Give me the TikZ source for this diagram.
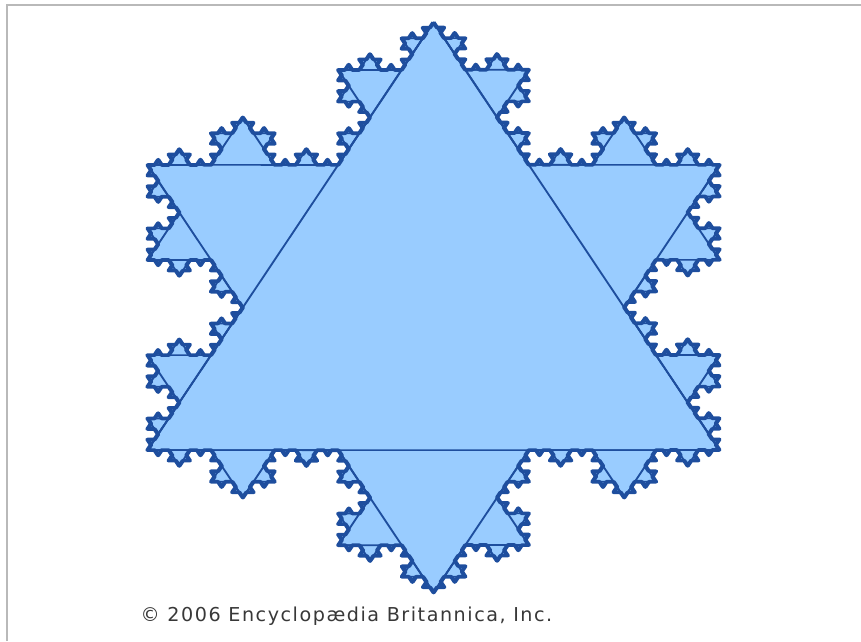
\documentclass[tikz,border=0pt]{standalone}
\usepackage{fontspec}
\newfontfamily\britfont[LetterSpace=8]{DejaVu Sans}
\usetikzlibrary{decorations.fractals}
\definecolor{flakefill}{RGB}{153,204,255}
\definecolor{flakeline}{RGB}{30,78,158}
\definecolor{framegray}{RGB}{185,185,185}
\tikzset{
  flake/.style={fill=flakefill,draw=flakeline,line width=1.2pt,line join=round,decoration=Koch snowflake},
  edges/.style={draw=flakeline,line width=.55pt,line join=round,decoration=Koch snowflake}
}
\begin{document}
\begin{tikzpicture}
\useasboundingbox (-4.335,-3.335) rectangle (4.275,3.075);
\draw[framegray,line width=.6pt] (-4.265,-3.335)--(-4.265,3.025)--(4.275,3.025);
\begin{scope}[transform canvas={yscale=.8636}]
\foreach \j in {0,1,2} {\coordinate (a\j) at ({90-120*\j}:3.3024);}
% outline of the snowflake
\filldraw[flake] decorate{decorate{decorate{decorate{(a0)--(a1)--(a2)--cycle}}}};
% triangles of the earlier steps
\draw[edges] (a0)--(a1)--(a2)--cycle;
\draw[edges] decorate{(a0)--(a1)--(a2)--cycle};
\draw[edges] decorate{decorate{(a0)--(a1)--(a2)--cycle}};
\draw[edges] decorate{decorate{decorate{(a0)--(a1)--(a2)--cycle}}};
\end{scope}
\node[anchor=base west,inner sep=0pt,text=black!78,font=\britfont\fontsize{5.45}{6.5}\selectfont] (copyright) at (-2.935,-3.142) {© 2006 Encyclopædia Britannica, Inc.};
\end{tikzpicture}
\end{document}
